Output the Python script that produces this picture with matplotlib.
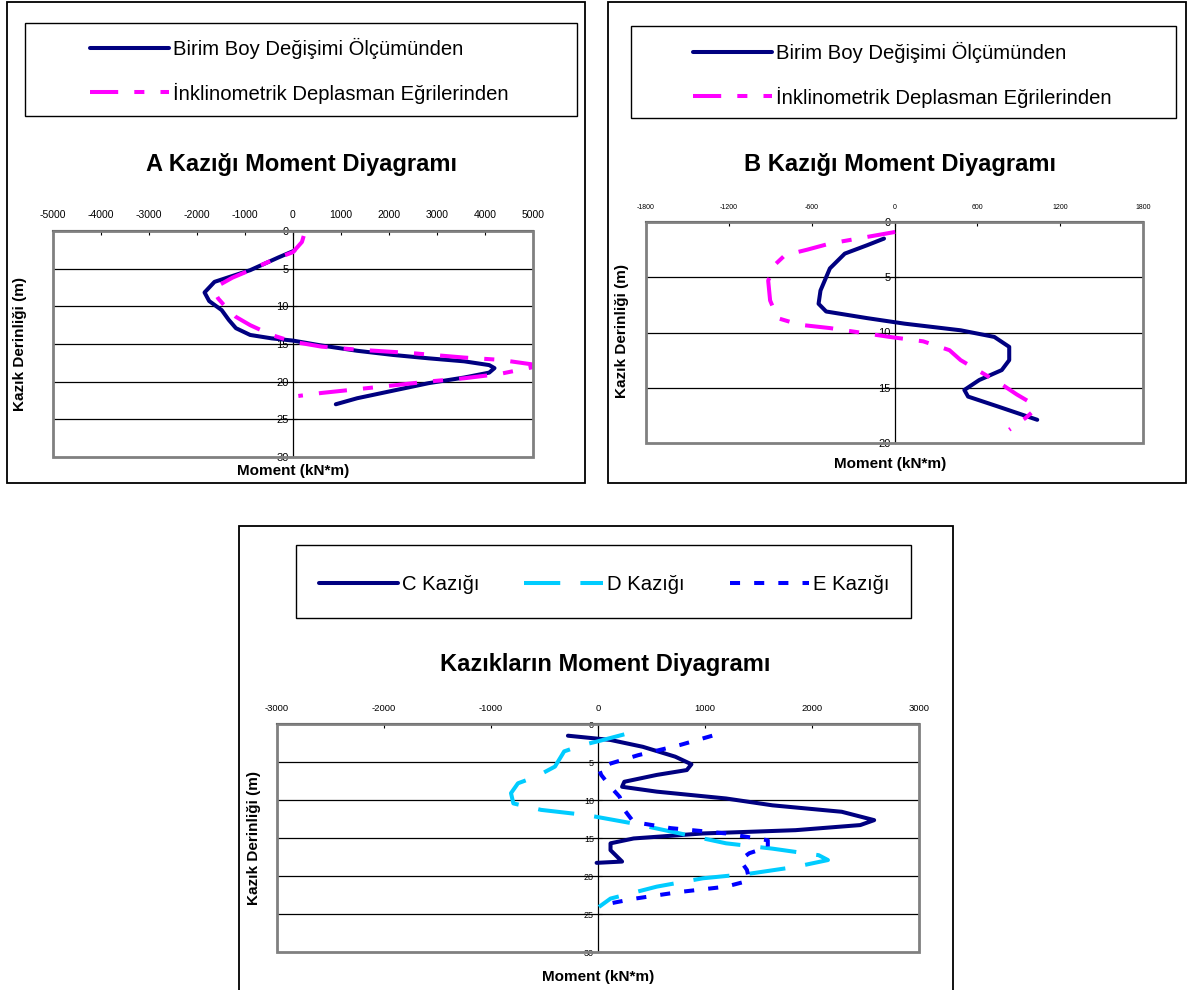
import numpy as np
import matplotlib
matplotlib.use('Agg')
import matplotlib.pyplot as plt
from matplotlib.patches import Rectangle

# =============================================================================
# General style
# =============================================================================

plt.rcParams['font.family'] = ['Liberation Sans', 'DejaVu Sans']
plt.rcParams['axes.unicode_minus'] = False

W, H = 1191, 990

# =============================================================================
# Data: moment (kN*m) vs pile depth (m)
# =============================================================================

# A pile
a_strain_depth = [2.6, 3.5, 5.2, 6.75, 8.16, 9.3, 10.5, 11.8, 12.9, 13.8, 14.25, 14.55, 15.2, 15.9,
                  16.45, 16.9, 17.3, 17.8, 18.2, 18.8, 19.45, 20.2, 21.2, 22.2, 23.0]
a_strain_moment = [30, -300, -892, -1635, -1843, -1746, -1486, -1338, -1189, -892, -446, 0, 594, 1337,
                   2080, 2824, 3566, 4087, 4198, 4087, 3566, 2824, 2080, 1337, 892]
a_incl_depth = [0.66, 1.46, 2.8, 3.9, 5.2, 6.2, 7.2, 8.1, 8.95, 9.75, 11.4, 12.5, 13.8, 14.7, 15.35,
                15.75, 16.2, 16.8, 17.1, 17.7, 18.1, 18.97, 19.55, 19.98, 20.5, 21.0, 21.5, 21.9]
a_incl_moment = [223, 186, 0, -446, -892, -1263, -1545, -1635, -1560, -1449, -1189, -892, -446, 0, 594,
                 1337, 2452, 3566, 4310, 4978, 4978, 4310, 3566, 2824, 2080, 1337, 594, 111]

# B pile
b_strain_depth = [1.5, 2.1, 2.86, 4.2, 6.2, 7.4, 8.1, 8.7, 9.2, 9.8, 10.4, 11.3, 12.5, 13.4, 14.3,
                  15.2, 15.8, 16.7, 17.9]
b_strain_moment = [-76, -198, -360, -468, -536, -550, -495, -198, 73, 479, 723, 831, 831, 777, 614,
                   506, 533, 750, 1034]
b_incl_depth = [0.9, 1.35, 1.95, 2.5, 3.0, 3.8, 5.3, 7.1, 8.7, 9.3, 9.6, 10.1, 10.4, 10.8, 11.6,
                12.5, 13.5, 14.7, 15.6, 16.4, 17.1, 17.7, 18.8]
b_incl_moment = [5, -198, -468, -631, -793, -861, -915, -901, -847, -685, -468, -198, -35, 208, 398,
                 479, 614, 777, 885, 993, 1007, 953, 831]

# C, D, E piles
c_depth = [1.54, 2.1, 3.0, 4.3, 5.3, 6.06, 6.7, 7.6, 8.26, 8.9, 9.8, 10.7, 11.55, 12.65, 13.3, 13.97,
           14.4, 15.06, 15.7, 16.6, 18.1, 18.27]
c_moment = [-281, 117, 419, 722, 873, 830, 549, 246, 225, 549, 1197, 1630, 2278, 2581, 2451, 1846,
            981, 333, 117, 117, 225, -13]
d_depth = [1.36, 2.24, 2.77, 3.6, 5.6, 6.9, 7.8, 9.1, 10.45, 11.3, 12.0, 13.1, 14.4, 15.7, 16.4,
           17.26, 17.9, 18.8, 19.7, 20.3, 21.4, 22.97, 24.07]
d_moment = [246, 9, -143, -316, -402, -575, -748, -813, -791, -532, -99, 333, 765, 1197, 1630,
            2062, 2149, 1846, 1414, 981, 549, 117, 9]
e_depth = [1.54, 2.77, 4.1, 5.2, 5.9, 6.7, 8.26, 9.6, 11.3, 12.9, 13.7, 14.4, 15.3, 16.2, 17.0,
           17.9, 19.2, 20.6, 21.4, 22.1, 23.0, 23.6, 24.0]
e_moment = [1068, 765, 376, 117, 9, 30, 117, 203, 246, 333, 679, 1197, 1587, 1587, 1414, 1327,
            1392, 1414, 1197, 765, 333, 117, 30]

NAVY = '#000080'
PINK = '#FF00FF'
CYAN = '#00CCFF'
BLUE = '#0000FF'
LW = 2.9

TITLE_SIZE = 17
LABEL_SIZE = 11
LEGEND_SIZE = 14.6


def fig_box(x0, y0, x1, y1):
    # pixel box (top-left origin) -> figure fraction rect
    return [x0 / W, 1 - y1 / H, (x1 - x0) / W, (y1 - y0) / H]


def frame(fig, x0, y0, x1, y1, lw=1.3, color='black'):
    l, b, w, h = fig_box(x0, y0, x1, y1)
    fig.add_artist(Rectangle((l, b), w, h, transform=fig.transFigure, fill=False,
                             edgecolor=color, linewidth=lw))


def moment_axes(fig, box, xmax, xstep, dmax, xtick_size, ytick_size):
    ax = fig.add_axes(fig_box(*box))
    ax.set_xlim(-xmax, xmax)
    ax.set_ylim(dmax, 0)
    ax.set_xticks(np.arange(-xmax, xmax + 1, xstep))
    ax.set_yticks(np.arange(0, dmax + 1, 5))
    for d in np.arange(5, dmax, 5):
        ax.axhline(d, color='black', lw=0.9, zorder=1)
    # depth axis sits on zero moment
    ax.spines['left'].set_position(('data', 0))
    ax.spines['left'].set_linewidth(0.9)
    ax.spines['right'].set_visible(False)
    ax.spines['bottom'].set_visible(False)
    ax.spines['top'].set_linewidth(1.5)
    ax.xaxis.tick_top()
    ax.tick_params(axis='x', direction='in', length=3, labelsize=xtick_size, pad=8)
    ax.tick_params(axis='y', direction='in', length=3, labelsize=ytick_size, pad=3)
    ax.add_patch(Rectangle((0, 0), 1, 1, transform=ax.transAxes, fill=False,
                           edgecolor='#808080', linewidth=2, clip_on=False, zorder=5))
    ax.set_facecolor('white')
    return ax


fig = plt.figure(figsize=(W / 100, H / 100), dpi=100)

# =============================================================================
# A pile
# =============================================================================

frame(fig, 7, 2, 585, 483)
axA = moment_axes(fig, (53, 231, 533, 457), 5000, 1000, 30, 7.5, 8)
lA1, = axA.plot(a_strain_moment, a_strain_depth, color=NAVY, lw=LW, solid_capstyle='round', zorder=3)
lA2, = axA.plot(a_incl_moment, a_incl_depth, color=PINK, lw=LW, dashes=(7, 4, 2.5, 4), zorder=4)
fig.text(20 / W, 1 - 344 / H, 'Kazık Derinliği (m)', rotation=90, ha='center', va='center',
         fontsize=LABEL_SIZE, fontweight='bold')
fig.text(293 / W, 1 - 471 / H, 'Moment (kN*m)', ha='center', va='center',
         fontsize=LABEL_SIZE, fontweight='bold')
fig.text(301 / W, 1 - 164 / H, 'A Kazığı Moment Diyagramı', ha='center', va='center',
         fontsize=TITLE_SIZE, fontweight='bold')
frame(fig, 25, 23, 577, 116, lw=1.0)
axA.legend([lA1, lA2], ['Birim Boy Değişimi Ölçümünden', 'İnklinometrik Deplasman Eğrilerinden'],
           loc='upper left', bbox_to_anchor=(80 / W, 1 - 28 / H), bbox_transform=fig.transFigure,
           frameon=False, borderpad=0, handlelength=3.9, handletextpad=0.2, labelspacing=1.15,
           prop={'size': LEGEND_SIZE})

# =============================================================================
# B pile
# =============================================================================

frame(fig, 608, 2, 1186, 483)
axB = moment_axes(fig, (646, 222, 1143, 443), 1800, 600, 20, 5, 8)
lB1, = axB.plot(b_strain_moment, b_strain_depth, color=NAVY, lw=LW, solid_capstyle='round', zorder=3)
lB2, = axB.plot(b_incl_moment, b_incl_depth, color=PINK, lw=LW, dashes=(7, 4, 2.5, 4), zorder=4)
fig.text(622 / W, 1 - 331 / H, 'Kazık Derinliği (m)', rotation=90, ha='center', va='center',
         fontsize=LABEL_SIZE, fontweight='bold')
fig.text(890 / W, 1 - 464 / H, 'Moment (kN*m)', ha='center', va='center',
         fontsize=LABEL_SIZE, fontweight='bold')
fig.text(900 / W, 1 - 164 / H, 'B Kazığı Moment Diyagramı', ha='center', va='center',
         fontsize=TITLE_SIZE, fontweight='bold')
frame(fig, 631, 26, 1176, 118, lw=1.0)
axB.legend([lB1, lB2], ['Birim Boy Değişimi Ölçümünden', 'İnklinometrik Deplasman Eğrilerinden'],
           loc='upper left', bbox_to_anchor=(683 / W, 1 - 32 / H), bbox_transform=fig.transFigure,
           frameon=False, borderpad=0, handlelength=3.9, handletextpad=0.2, labelspacing=1.15,
           prop={'size': LEGEND_SIZE})

# =============================================================================
# C, D, E piles
# =============================================================================

frame(fig, 239, 526, 953, 1000)
axC = moment_axes(fig, (277, 724, 919, 952), 3000, 1000, 30, 6.8, 6.5)
lC, = axC.plot(c_moment, c_depth, color=NAVY, lw=LW, solid_capstyle='round', zorder=3)
lD, = axC.plot(d_moment, d_depth, color=CYAN, lw=LW, dashes=(9, 5), zorder=4)
lE, = axC.plot(e_moment, e_depth, color=BLUE, lw=LW, dashes=(2.5, 3.5), zorder=4)
fig.text(254 / W, 1 - 838 / H, 'Kazık Derinliği (m)', rotation=90, ha='center', va='center',
         fontsize=LABEL_SIZE, fontweight='bold')
fig.text(598 / W, 1 - 977 / H, 'Moment (kN*m)', ha='center', va='center',
         fontsize=LABEL_SIZE, fontweight='bold')
fig.text(605 / W, 1 - 665 / H, 'Kazıkların Moment Diyagramı', ha='center', va='center',
         fontsize=TITLE_SIZE, fontweight='bold')
frame(fig, 296, 545, 911, 618, lw=1.0)
axC.legend([lC, lD, lE], ['C Kazığı', 'D Kazığı', 'E Kazığı'], ncol=3,
           loc='upper left', bbox_to_anchor=(309 / W, 1 - 565 / H), bbox_transform=fig.transFigure,
           frameon=False, borderpad=0, handlelength=3.9, handletextpad=0.2, columnspacing=2.2,
           prop={'size': LEGEND_SIZE})

fig.savefig('out.png', dpi=100, facecolor='white')
